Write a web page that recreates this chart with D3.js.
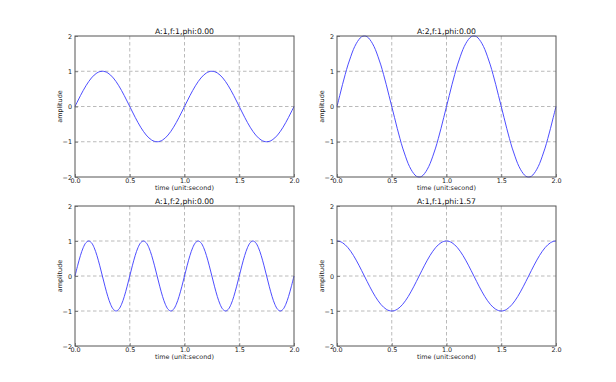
<!DOCTYPE html>
<html>
<head>
<meta charset="utf-8">
<script src="https://cdn.jsdelivr.net/npm/d3@7"></script>
<style>
  html, body { margin: 0; padding: 0; background: #fff; }
  svg { display: block; font-family: "DejaVu Sans", sans-serif; }
</style>
</head>
<body>
<svg id="chart" width="616" height="382"></svg>
<script>
// ---- data (time step 0.025 s, 0..2 s) ----
const timeStart = 0, timeStep = 0.025;
const titles = ["A:1,f:1,phi:0.00", "A:2,f:1,phi:0.00", "A:1,f:2,phi:0.00", "A:1,f:1,phi:1.57"];
const xTicks = [0.0, 0.5, 1.0, 1.5, 2.0];
const xTickLabels = ["0.0", "0.5", "1.0", "1.5", "2.0"];
const yTicks = [-2, -1, 0, 1, 2];
const yTickLabels = ["\u22122", "\u22121", "0", "1", "2"];
const xLabel = "time (unit:second)";
const yLabel = "amplitude";

const waveA1f1 = [0,.156,.309,.454,.588,.707,.809,.891,.951,.988,1,.988,.951,.891,.809,.707,.588,.454,.309,.156,
  0,-.156,-.309,-.454,-.588,-.707,-.809,-.891,-.951,-.988,-1,-.988,-.951,-.891,-.809,-.707,-.588,-.454,-.309,-.156,
  0,.156,.309,.454,.588,.707,.809,.891,.951,.988,1,.988,.951,.891,.809,.707,.588,.454,.309,.156,
  0,-.156,-.309,-.454,-.588,-.707,-.809,-.891,-.951,-.988,-1,-.988,-.951,-.891,-.809,-.707,-.588,-.454,-.309,-.156,0];
const waveA2f1 = [0,.31,.62,.91,1.18,1.41,1.62,1.78,1.9,1.98,2,1.98,1.9,1.78,1.62,1.41,1.18,.91,.62,.31,
  0,-.31,-.62,-.91,-1.18,-1.41,-1.62,-1.78,-1.9,-1.98,-2,-1.98,-1.9,-1.78,-1.62,-1.41,-1.18,-.91,-.62,-.31,
  0,.31,.62,.91,1.18,1.41,1.62,1.78,1.9,1.98,2,1.98,1.9,1.78,1.62,1.41,1.18,.91,.62,.31,
  0,-.31,-.62,-.91,-1.18,-1.41,-1.62,-1.78,-1.9,-1.98,-2,-1.98,-1.9,-1.78,-1.62,-1.41,-1.18,-.91,-.62,-.31,0];
const waveA1f2 = [0,.309,.588,.809,.951,1,.951,.809,.588,.309,0,-.309,-.588,-.809,-.951,-1,-.951,-.809,-.588,-.309,
  0,.309,.588,.809,.951,1,.951,.809,.588,.309,0,-.309,-.588,-.809,-.951,-1,-.951,-.809,-.588,-.309,
  0,.309,.588,.809,.951,1,.951,.809,.588,.309,0,-.309,-.588,-.809,-.951,-1,-.951,-.809,-.588,-.309,
  0,.309,.588,.809,.951,1,.951,.809,.588,.309,0,-.309,-.588,-.809,-.951,-1,-.951,-.809,-.588,-.309,0];
const waveA1f1p = [1,.988,.951,.891,.809,.707,.588,.454,.309,.156,0,-.156,-.309,-.454,-.588,-.707,-.809,-.891,-.951,-.988,
  -1,-.988,-.951,-.891,-.809,-.707,-.588,-.454,-.309,-.156,0,.156,.309,.454,.588,.707,.809,.891,.951,.988,
  1,.988,.951,.891,.809,.707,.588,.454,.309,.156,0,-.156,-.309,-.454,-.588,-.707,-.809,-.891,-.951,-.988,
  -1,-.988,-.951,-.891,-.809,-.707,-.588,-.454,-.309,-.156,0,.156,.309,.454,.588,.707,.809,.891,.951,.988,1];
const seriesList = [waveA1f1, waveA2f1, waveA1f2, waveA1f1p];

// ---- layout ----
const panels = [
  {x0: 75,  x1: 294, y0: 36,  y1: 177},
  {x0: 337, x1: 556, y0: 36,  y1: 177},
  {x0: 75,  x1: 294, y0: 206, y1: 346},
  {x0: 337, x1: 556, y0: 206, y1: 346}
];

const svg = d3.select("#chart");
svg.append("rect").attr("width", 616).attr("height", 382).attr("fill", "#fff");

panels.forEach((p, i) => {
  const x = d3.scaleLinear().domain([0, 2]).range([p.x0, p.x1]);
  const y = d3.scaleLinear().domain([-2, 2]).range([p.y1, p.y0]);
  const g = svg.append("g");

  // grid
  g.append("g").selectAll("line").data(xTicks.slice(1, -1)).join("line")
    .attr("x1", d => x(d)).attr("x2", d => x(d)).attr("y1", p.y0).attr("y2", p.y1)
    .attr("stroke", "#a8a8a8").attr("stroke-width", 0.8).attr("stroke-dasharray", "3.5,2.5");
  g.append("g").selectAll("line").data(yTicks.slice(1, -1)).join("line")
    .attr("y1", d => y(d)).attr("y2", d => y(d)).attr("x1", p.x0).attr("x2", p.x1)
    .attr("stroke", "#a8a8a8").attr("stroke-width", 0.8).attr("stroke-dasharray", "3.5,2.5");

  // line
  const data = seriesList[i].map((v, k) => ({t: timeStart + k * timeStep, v}));
  g.append("path").datum(data)
    .attr("fill", "none").attr("stroke", "#3a3aff").attr("stroke-width", 0.9)
    .attr("d", d3.line().x(d => x(d.t)).y(d => y(d.v)).curve(d3.curveCatmullRom));

  // axes (inward ticks)
  const xa = g.append("g").attr("transform", `translate(0,${p.y1})`)
    .call(d3.axisBottom(x).tickValues(xTicks).tickFormat((d, j) => xTickLabels[j]).tickSizeInner(-3).tickSizeOuter(0).tickPadding(4));
  const ya = g.append("g").attr("transform", `translate(${p.x0},0)`)
    .call(d3.axisLeft(y).tickValues(yTicks).tickFormat((d, j) => yTickLabels[j]).tickSizeInner(-3).tickSizeOuter(0).tickPadding(3));
  [xa, ya].forEach(a => {
    a.select(".domain").remove();
    a.selectAll(".tick line").attr("stroke", "#444").attr("stroke-width", 0.6);
    a.selectAll("text").attr("fill", "#222").style("font-size", "6.4px").style("font-family", "DejaVu Sans");
  });
  xa.selectAll("text").attr("dy", "0.71em").attr("y", 1.5);
  ya.selectAll("text").attr("x", -3);

  // frame
  g.append("rect").attr("x", p.x0).attr("y", p.y0).attr("width", p.x1 - p.x0).attr("height", p.y1 - p.y0)
    .attr("fill", "none").attr("stroke", "#555").attr("stroke-width", 1);

  // title
  g.append("text").attr("x", (p.x0 + p.x1) / 2).attr("y", p.y0 - 2.5)
    .attr("text-anchor", "middle").attr("fill", "#111").style("font-size", "7.7px").text(titles[i]);
  // xlabel
  g.append("text").attr("x", (p.x0 + p.x1) / 2).attr("y", p.y1 + 12.8)
    .attr("text-anchor", "middle").attr("fill", "#222").style("font-size", "6.4px").text(xLabel);
  // ylabel
  g.append("text").attr("transform", `translate(${p.x0 - 13.5},${(p.y0 + p.y1) / 2}) rotate(-90)`)
    .attr("text-anchor", "middle").attr("fill", "#222").style("font-size", "6.4px").text(yLabel);
});
</script>
</body>
</html>
